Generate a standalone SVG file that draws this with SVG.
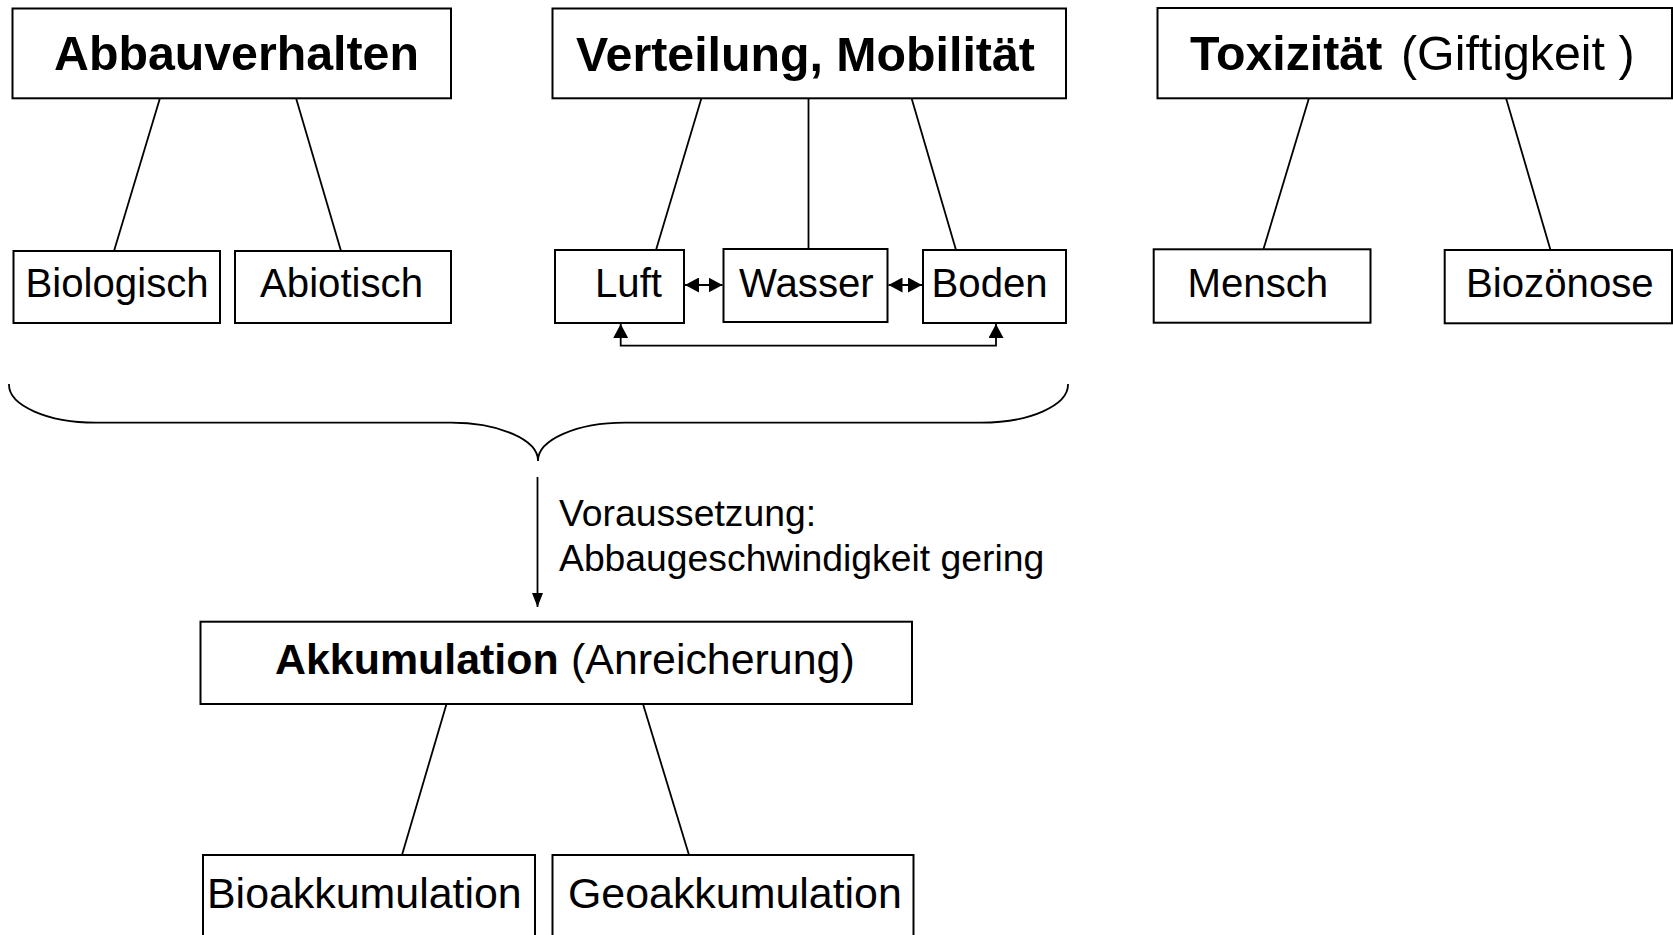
<svg xmlns="http://www.w3.org/2000/svg" width="1673" height="935" viewBox="0 0 1673 935">
<style>
.box{fill:#fff;stroke:#000;stroke-width:2}
.ln{fill:none;stroke:#000;stroke-width:1.8}
text{font-family:"Liberation Sans",Arial,sans-serif;fill:#000}
.t{font-size:48.3px}
.b{font-weight:bold}
.s{font-size:40.2px}
.m{font-size:42.9px}
.n{font-size:37.3px}
</style>
<defs>
<marker id="arrS" viewBox="0 0 14 15" refX="14" refY="7.5" markerWidth="14" markerHeight="15" markerUnits="userSpaceOnUse" orient="auto-start-reverse"><path d="M0,0 L14,7.5 L0,15 z" fill="#000"/></marker>
<marker id="arrL" viewBox="0 0 14 15" refX="14" refY="7.5" markerWidth="14" markerHeight="15" markerUnits="userSpaceOnUse" orient="auto-start-reverse"><path d="M0,0 L14,7.5 L0,15 z" fill="#000"/></marker>
<marker id="arrM" viewBox="0 0 14 11" refX="14" refY="5.5" markerWidth="14" markerHeight="11" markerUnits="userSpaceOnUse" orient="auto"><path d="M0,0 L14,5.5 L0,11 z" fill="#000"/></marker>
</defs>
<rect width="1673" height="935" fill="#fff"/>
<g id="connectors">
<line class="ln" x1="160" y1="98" x2="114" y2="251"/>
<line class="ln" x1="296" y1="98" x2="341" y2="251"/>
<line class="ln" x1="701.5" y1="98" x2="656" y2="250"/>
<line class="ln" x1="808.5" y1="98" x2="808.5" y2="249"/>
<line class="ln" x1="911.5" y1="98" x2="956" y2="250"/>
<line class="ln" x1="1309" y1="98" x2="1263.5" y2="249"/>
<line class="ln" x1="1506" y1="98" x2="1550.5" y2="250"/>
<line class="ln" x1="446.5" y1="704" x2="402" y2="855"/>
<line class="ln" x1="643" y1="704" x2="689" y2="855"/>
<line class="ln" x1="685" y1="285" x2="722.5" y2="285" stroke-width="2.4" marker-start="url(#arrS)" marker-end="url(#arrS)"/>
<line class="ln" x1="888.5" y1="285" x2="922" y2="285" stroke-width="2.4" marker-start="url(#arrS)" marker-end="url(#arrS)"/>
<path class="ln" d="M620.7 324 V345.7 H996 V324" stroke-width="2.2" marker-start="url(#arrL)" marker-end="url(#arrL)"/>
<path id="brace" class="ln" d="M9 384 A87 38 0 0 0 96 422.7 L451 422.7 A87 38 0 0 1 538 461 A87 38 0 0 1 625 422.7 L981 422.7 A87 38 0 0 0 1068 384"/>
<line class="ln" x1="537.5" y1="477" x2="537.5" y2="607" marker-end="url(#arrM)"/>
</g>
<g id="abbauverhalten"><rect class="box" x="12.5" y="8.5" width="438.5" height="89.8"/><text class="t b" x="54" y="70">Abbauverhalten</text></g>
<g id="verteilung"><rect class="box" x="552.5" y="8.5" width="513.5" height="89.8"/><text class="t b" x="576" y="70.5">Verteilung, Mobilität</text></g>
<g id="toxizitaet"><rect class="box" x="1157.5" y="8" width="514.5" height="90.3"/><text class="t" y="70"><tspan class="b" x="1190">Toxizität</tspan><tspan x="1401">(Giftigkeit )</tspan></text></g>
<g id="biologisch"><rect class="box" x="13.5" y="251" width="206.5" height="72"/><text class="s" x="25.5" y="297">Biologisch</text></g>
<g id="abiotisch"><rect class="box" x="235" y="251" width="216" height="72"/><text class="s" x="260" y="297">Abiotisch</text></g>
<g id="luft"><rect class="box" x="555" y="250" width="129" height="73"/><text class="s" x="595" y="297">Luft</text></g>
<g id="wasser"><rect class="box" x="723.5" y="249" width="164" height="73"/><text class="s" x="739" y="297">Wasser</text></g>
<g id="boden"><rect class="box" x="923" y="250" width="143" height="73"/><text class="s" x="931.5" y="297">Boden</text></g>
<g id="mensch"><rect class="box" x="1153.7" y="249.3" width="216.8" height="73.4"/><text class="s" x="1187.5" y="297">Mensch</text></g>
<g id="biozoenose"><rect class="box" x="1444.7" y="250" width="227.3" height="73.3"/><text class="s" x="1466" y="297">Biozönose</text></g>
<g id="voraussetzung"><text class="n" x="559" y="526">Voraussetzung:</text><text class="n" x="559" y="570.5">Abbaugeschwindigkeit gering</text></g>
<g id="akkumulation"><rect class="box" x="200.5" y="621.7" width="711.5" height="82.3"/><text class="m" y="674"><tspan class="b" x="275">Akkumulation</tspan><tspan x="571">(Anreicherung)</tspan></text></g>
<g id="bioakkumulation"><rect class="box" x="203" y="855" width="332" height="100"/><text class="m" x="207" y="908">Bioakkumulation</text></g>
<g id="geoakkumulation"><rect class="box" x="552.5" y="855" width="361" height="100"/><text class="m" x="568" y="908">Geoakkumulation</text></g>
</svg>
